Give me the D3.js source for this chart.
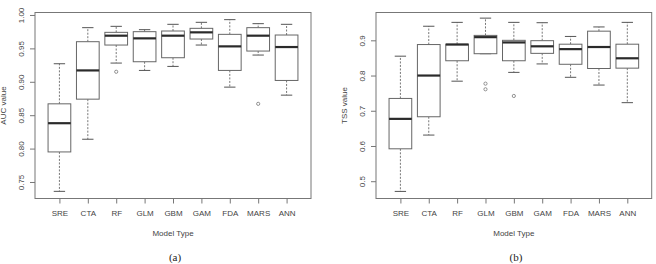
<!DOCTYPE html>
<html>
<head>
<meta charset="utf-8">
<script src="https://cdn.jsdelivr.net/npm/d3@7"></script>
<style>
  body { margin: 0; background: #fff; }
  svg text { font-family: "Liberation Sans", Arial, sans-serif; fill: #444; }
</style>
</head>
<body>
<svg id="chart" width="656" height="264"></svg>
<script>
var models = ["SRE", "CTA", "RF", "GLM", "GBM", "GAM", "FDA", "MARS", "ANN"];

// AUC boxplot stats (panel a)
var aucHigh = [0.927, 0.981, 0.983, 0.978, 0.986, 0.989, 0.993, 0.987, 0.986];
var aucQ3   = [0.867, 0.960, 0.974, 0.975, 0.976, 0.980, 0.971, 0.981, 0.970];
var aucMed  = [0.838, 0.917, 0.969, 0.965, 0.969, 0.974, 0.953, 0.969, 0.952];
var aucQ1   = [0.795, 0.874, 0.955, 0.930, 0.936, 0.964, 0.917, 0.946, 0.902];
var aucLow  = [0.736, 0.814, 0.928, 0.917, 0.923, 0.955, 0.892, 0.940, 0.880];
var aucOut  = [[], [], [0.915], [], [], [], [], [0.867], []];
var aucTicks = [0.75, 0.80, 0.85, 0.90, 0.95, 1.00];

// TSS boxplot stats (panel b)
var tssHigh = [0.855, 0.940, 0.951, 0.963, 0.951, 0.950, 0.911, 0.938, 0.951];
var tssQ3   = [0.735, 0.888, 0.889, 0.914, 0.900, 0.899, 0.889, 0.926, 0.889];
var tssMed  = [0.677, 0.800, 0.888, 0.909, 0.894, 0.883, 0.875, 0.881, 0.849];
var tssQ1   = [0.592, 0.683, 0.842, 0.862, 0.842, 0.863, 0.832, 0.820, 0.821];
var tssLow  = [0.471, 0.631, 0.784, 0.862, 0.809, 0.833, 0.795, 0.773, 0.723];
var tssOut  = [[], [], [], [0.777, 0.761], [0.742], [], [], [], []];
var tssTicks = [0.5, 0.6, 0.7, 0.8, 0.9];

var svg = d3.select("#chart");

function drawPanel(p) {
  var g = svg.append("g");
  var left = p.left, right = p.right, top = 12.5, bottom = 198.5;
  var step = (right - left) / 9.72;

  var x = d3.scalePoint().domain(models)
    .range([left + 0.86 * step, left + 8.86 * step]);
  var y = d3.scaleLinear().domain(p.domain).range([bottom, top]);
  var boxW = 0.8 * step, capW = boxW / 2;

  var rows = models.map(function(m, i) {
    return { name: m, hi: p.hi[i], q3: p.q3[i], med: p.med[i], q1: p.q1[i], lo: p.lo[i], out: p.out[i] };
  });

  var box = g.selectAll("g.box").data(rows).enter().append("g")
    .attr("class", "box")
    .attr("transform", function(d) { return "translate(" + x(d.name) + ",0)"; });

  // whiskers
  box.append("line")
    .attr("y1", function(d) { return y(d.q3); }).attr("y2", function(d) { return y(d.hi); })
    .attr("stroke", "#777").attr("stroke-dasharray", "2,1.5");
  box.append("line")
    .attr("y1", function(d) { return y(d.q1); }).attr("y2", function(d) { return y(d.lo); })
    .attr("stroke", "#777").attr("stroke-dasharray", "2,1.5");
  box.append("line")
    .attr("x1", -capW / 2).attr("x2", capW / 2)
    .attr("y1", function(d) { return y(d.hi); }).attr("y2", function(d) { return y(d.hi); })
    .attr("stroke", "#555");
  box.append("line")
    .attr("x1", -capW / 2).attr("x2", capW / 2)
    .attr("y1", function(d) { return y(d.lo); }).attr("y2", function(d) { return y(d.lo); })
    .attr("stroke", "#555");

  box.append("rect")
    .attr("x", -boxW / 2).attr("width", boxW)
    .attr("y", function(d) { return y(d.q3); })
    .attr("height", function(d) { return y(d.q1) - y(d.q3); })
    .attr("fill", "#fff").attr("stroke", "#666");

  box.append("line")
    .attr("x1", -boxW / 2).attr("x2", boxW / 2)
    .attr("y1", function(d) { return y(d.med); }).attr("y2", function(d) { return y(d.med); })
    .attr("stroke", "#2a2a2a").attr("stroke-width", 2.2);

  box.selectAll("circle").data(function(d) { return d.out; }).enter().append("circle")
    .attr("cy", function(v) { return y(v); })
    .attr("r", 1.6).attr("fill", "none").attr("stroke", "#777").attr("stroke-width", 0.8);

  // frame
  g.append("rect")
    .attr("x", left).attr("y", top)
    .attr("width", right - left).attr("height", bottom - top)
    .attr("fill", "none").attr("stroke", "#777");

  var ya = g.append("g").attr("transform", "translate(" + left + ",0)")
    .call(d3.axisLeft(y).tickValues(p.ticks).tickSize(5).tickFormat(p.fmt));
  ya.select(".domain").remove();
  ya.selectAll("line").attr("stroke", "#777");
  ya.selectAll("text")
    .attr("transform", "rotate(-90)")
    .attr("x", 0).attr("y", -13.3).attr("dy", null)
    .attr("text-anchor", "middle").attr("dominant-baseline", "central")
    .style("font-size", "8px").attr("fill", "#555");

  var xa = g.append("g").attr("transform", "translate(0," + bottom + ")")
    .call(d3.axisBottom(x).tickSize(5));
  xa.select(".domain").remove();
  xa.selectAll("line").attr("stroke", "#777");
  xa.selectAll("text")
    .attr("y", 14.8).attr("dy", null)
    .attr("dominant-baseline", "central")
    .style("font-size", "8px").attr("fill", "#555");

  g.append("text")
    .attr("transform", "translate(" + (left - 31.6) + "," + ((top + bottom) / 2) + ") rotate(-90)")
    .attr("text-anchor", "middle").attr("dominant-baseline", "central")
    .style("font-size", "8px").attr("fill", "#555")
    .text(p.ylab);

  g.append("text")
    .attr("x", (left + right) / 2).attr("y", 233)
    .attr("text-anchor", "middle").attr("dominant-baseline", "central")
    .style("font-size", "8px").attr("fill", "#555")
    .text("Model Type");

  g.append("text")
    .attr("x", p.capX).attr("y", 257)
    .attr("text-anchor", "middle").attr("dominant-baseline", "central")
    .style("font-family", "'Liberation Serif', 'Times New Roman', serif")
    .style("font-size", "11px").style("fill", "#222")
    .text(p.caption);
}

drawPanel({
  left: 35, right: 311, domain: [0.7253, 1.0037],
  hi: aucHigh, q3: aucQ3, med: aucMed, q1: aucQ1, lo: aucLow, out: aucOut,
  ticks: aucTicks, fmt: d3.format(".2f"), ylab: "AUC value", caption: "(a)", capX: 175
});

drawPanel({
  left: 376, right: 651.7, domain: [0.4509, 0.979],
  hi: tssHigh, q3: tssQ3, med: tssMed, q1: tssQ1, lo: tssLow, out: tssOut,
  ticks: tssTicks, fmt: d3.format(".1f"), ylab: "TSS value", caption: "(b)", capX: 516
});
</script>
</body>
</html>
